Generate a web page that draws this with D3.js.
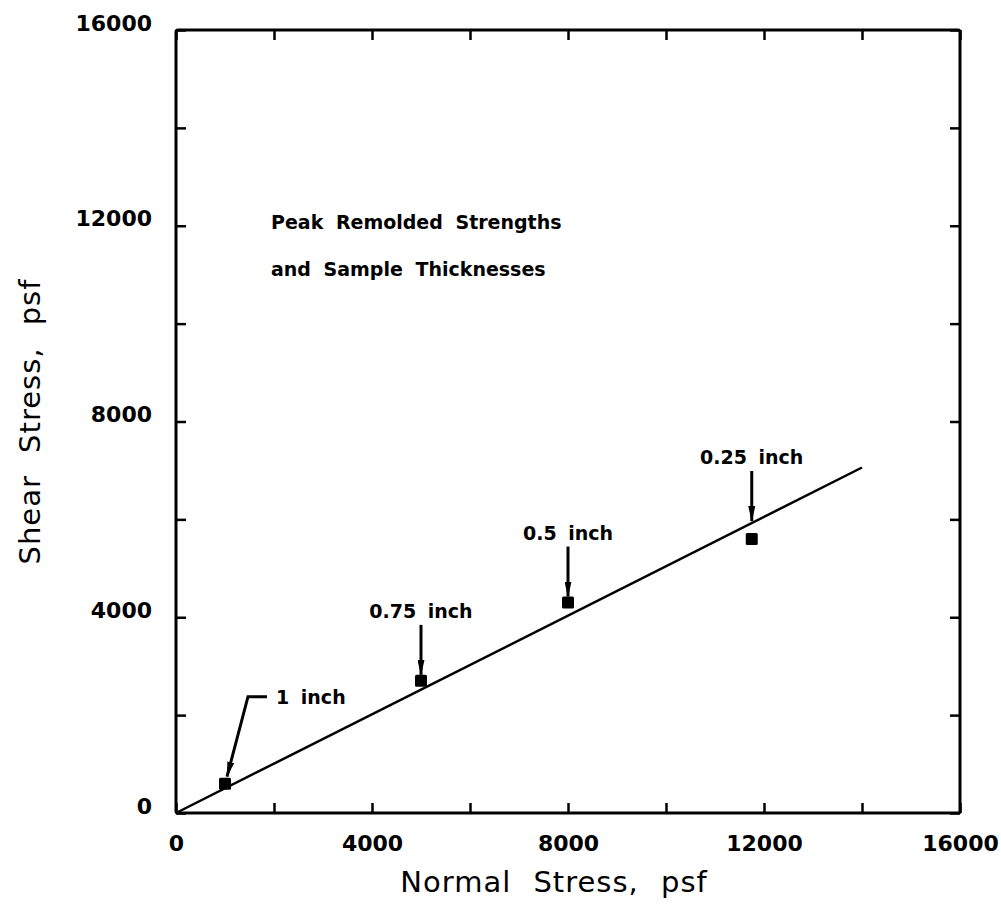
<!DOCTYPE html>
<html>
<head>
<meta charset="utf-8">
<script src="https://cdn.jsdelivr.net/npm/d3@7"></script>
<style>
  body { margin: 0; background: #fff; }
  text { font-family: "DejaVu Sans", sans-serif; fill: #000; }
</style>
</head>
<body>
<script>
// Data
var normalStress = [1000, 5000, 8000, 11750];
var shearStress = [600, 2700, 4300, 5600];
var thickness = ["1 inch", "0.75 inch", "0.5 inch", "0.25 inch"];

// fitted strength line
var fitNormal = [0, 14000];
var fitShear = [0, 7060];

var noteLines = ["Peak Remolded Strengths", "and Sample Thicknesses"];

var svgWidth = 1001;
var svgHeight = 923;
var margin = { top: 30, right: 41, bottom: 110, left: 176 };
var width = svgWidth - margin.left - margin.right;
var height = svgHeight - margin.top - margin.bottom;

var svg = d3.select("body")
  .append("svg")
  .attr("width", svgWidth)
  .attr("height", svgHeight);

var chartGroup = svg.append("g")
  .attr("transform", `translate(${margin.left}, ${margin.top})`);

var x = d3.scaleLinear().domain([0, 16000]).range([0, width]);
var y = d3.scaleLinear().domain([0, 16000]).range([height, 0]);

var tickVals = d3.range(0, 16001, 2000);
var labelFmt = d => (d % 4000 === 0 ? d3.format("d")(d) : "");

// arrow head
svg.append("defs").append("marker")
  .attr("id", "arrow")
  .attr("markerUnits", "userSpaceOnUse")
  .attr("viewBox", "0 0 16 7")
  .attr("refX", 15)
  .attr("refY", 3.5)
  .attr("markerWidth", 16)
  .attr("markerHeight", 7)
  .attr("orient", "auto")
  .append("path")
  .attr("d", "M0,0 L16,3.5 L0,7 Z")
  .attr("fill", "#000");

// axes: ticks inward on all four sides
var bottomAxis = d3.axisBottom(x).tickValues(tickVals).tickSize(-10).tickPadding(22).tickFormat(labelFmt);
var leftAxis = d3.axisLeft(y).tickValues(tickVals).tickSize(-10).tickPadding(24).tickFormat(labelFmt);
var topAxis = d3.axisTop(x).tickValues(tickVals).tickSize(-10).tickFormat("");
var rightAxis = d3.axisRight(y).tickValues(tickVals).tickSize(-10).tickFormat("");

function styleAxis(g) {
  g.select(".domain").remove();
  g.selectAll(".tick line").attr("stroke", "#000").attr("stroke-width", 2.5);
  g.selectAll(".tick text")
    .style("font-family", "'DejaVu Sans', sans-serif")
    .style("font-size", "22px")
    .style("font-weight", "bold")
    .attr("fill", "#000");
}

chartGroup.append("g")
  .attr("transform", `translate(0, ${height})`)
  .call(bottomAxis)
  .call(styleAxis);

chartGroup.append("g")
  .call(leftAxis)
  .call(styleAxis)
  .selectAll(".tick text").attr("dy", "0");

chartGroup.append("g").call(topAxis).call(styleAxis);

chartGroup.append("g")
  .attr("transform", `translate(${width}, 0)`)
  .call(rightAxis)
  .call(styleAxis);

// frame
chartGroup.append("rect")
  .attr("width", width)
  .attr("height", height)
  .attr("fill", "none")
  .attr("stroke", "#000")
  .attr("stroke-width", 3)
  .attr("rx", 2);

// axis titles
chartGroup.append("text")
  .attr("text-anchor", "middle")
  .attr("x", width / 2 - 14)
  .attr("y", height + 79)
  .style("font-size", "29px")
  .style("letter-spacing", "1px")
  .style("word-spacing", "12px")
  .text("Normal Stress, psf");

chartGroup.append("text")
  .attr("text-anchor", "middle")
  .attr("transform", `translate(-136, ${height / 2})rotate(-90)`)
  .style("font-size", "29px")
  .style("letter-spacing", "1px")
  .style("word-spacing", "12px")
  .text("Shear Stress, psf");

// note
chartGroup.selectAll(".note")
  .data(noteLines)
  .enter()
  .append("text")
  .attr("class", "note")
  .attr("x", 95)
  .attr("y", (d, i) => 199 + i * 47)
  .style("font-size", "19px")
  .style("font-weight", "bold")
  .style("word-spacing", "6px")
  .text(d => d);

// fitted line
var line = d3.line().x(d => x(d[0])).y(d => y(d[1]));
chartGroup.append("path")
  .datum(d3.zip(fitNormal, fitShear))
  .attr("d", line)
  .attr("fill", "none")
  .attr("stroke", "#000")
  .attr("stroke-width", 2.5);

var fitAt = d3.scaleLinear().domain(fitNormal).range(fitShear);

// points
var pts = d3.zip(normalStress, shearStress, thickness);
chartGroup.selectAll(".pt")
  .data(pts)
  .enter()
  .append("rect")
  .attr("class", "pt")
  .attr("x", d => x(d[0]) - 6)
  .attr("y", d => y(d[1]) - 6)
  .attr("width", 12)
  .attr("height", 12)
  .attr("rx", 1.5)
  .attr("fill", "#000");

// thickness labels with arrows
pts.forEach(function(d, i) {
  var px = x(d[0]);
  var py = y(d[1]);
  var ann = chartGroup.append("g");
  if (i === 0) {
    var ex = px + 23, ey = py - 87;
    ann.append("path")
      .attr("d", `M${ex + 19},${ey} L${ex},${ey} L${px + 2},${py - 7}`)
      .attr("fill", "none")
      .attr("stroke", "#000")
      .attr("stroke-width", 3)
      .attr("marker-end", "url(#arrow)");
    ann.append("text")
      .attr("x", ex + 28)
      .attr("y", ey + 7)
      .style("font-size", "19px")
      .style("font-weight", "bold")
      .style("word-spacing", "5px")
      .text(d[2]);
  } else {
    var tip = Math.min(py - 6, y(fitAt(d[0])) - 2);
    ann.append("line")
      .attr("x1", px).attr("x2", px)
      .attr("y1", tip - 50).attr("y2", tip)
      .attr("stroke", "#000")
      .attr("stroke-width", 3)
      .attr("marker-end", "url(#arrow)");
    ann.append("text")
      .attr("x", px)
      .attr("y", tip - 57)
      .attr("text-anchor", "middle")
      .style("font-size", "19px")
      .style("font-weight", "bold")
      .style("word-spacing", "5px")
      .text(d[2]);
  }
});
</script>
</body>
</html>
